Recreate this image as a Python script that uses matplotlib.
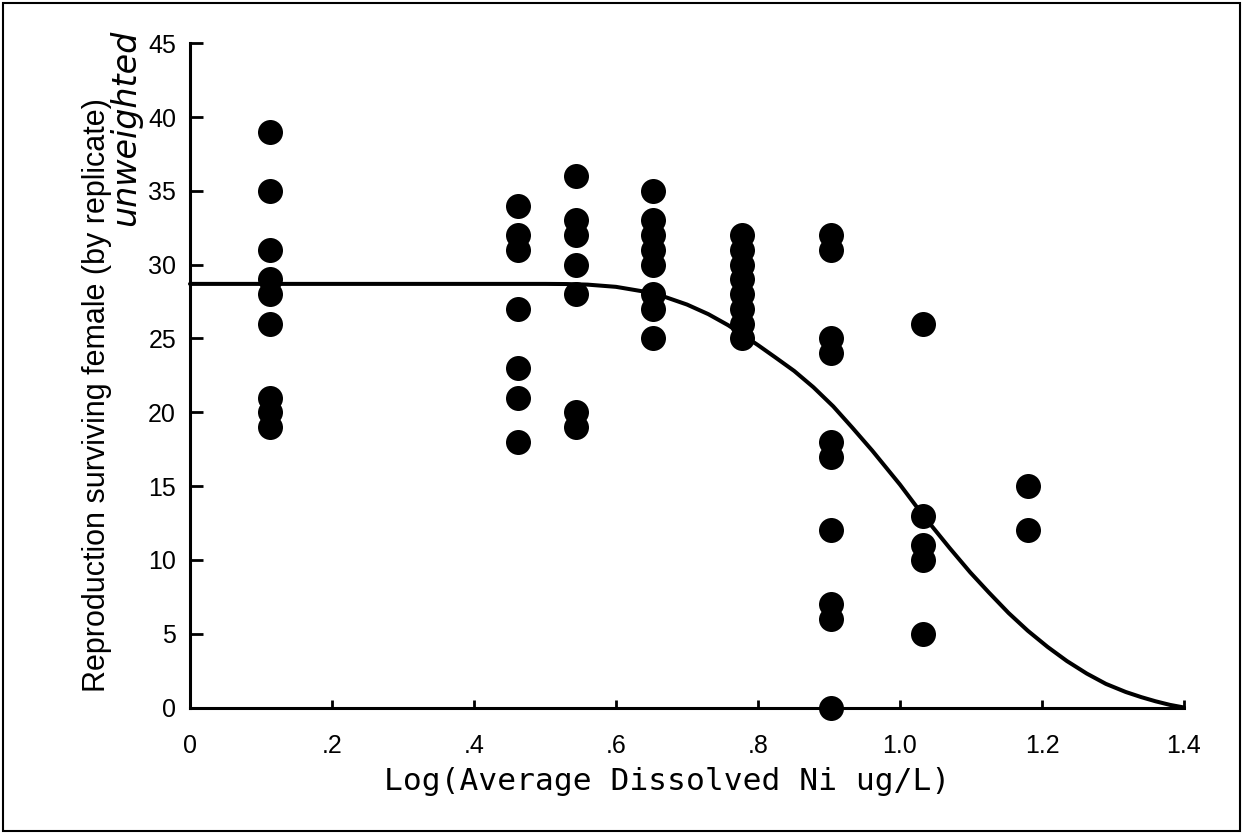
import matplotlib
matplotlib.use("Agg")
import matplotlib.pyplot as plt
from matplotlib.patches import Rectangle

# ---- data ----
log_ni = [0.113, 0.4615, 0.544, 0.652, 0.777, 0.903, 1.033, 1.180]
reproduction = [
    [39, 35, 31, 29, 28, 26, 21, 20, 19],
    [34, 32, 31, 27, 23, 21, 18],
    [36, 33, 32, 30, 28, 20, 19],
    [35, 33, 32, 31, 30, 28, 27, 25],
    [32, 31, 30, 29, 28, 27, 26, 25],
    [32, 31, 25, 24, 18, 17, 12, 7, 6, 0],
    [26, 13, 11, 10, 5],
    [15, 12],
]
fit_x = [0.0, 0.11, 0.30, 0.50, 0.53, 0.56, 0.60, 0.637, 0.67, 0.70, 0.73,
         0.758, 0.78, 0.80, 0.825, 0.851, 0.878, 0.906, 0.933, 0.961, 1.00,
         1.032, 1.07, 1.099, 1.125, 1.153, 1.18, 1.208, 1.235, 1.263, 1.29,
         1.318, 1.34, 1.36, 1.38, 1.40]
fit_y = [28.7, 28.7, 28.7, 28.7, 28.69, 28.65, 28.5, 28.2, 27.8, 27.3, 26.65,
         25.9, 25.2, 24.55, 23.7, 22.8, 21.7, 20.4, 18.95, 17.4, 15.1,
         13.05, 10.8, 9.15, 7.8, 6.4, 5.2, 4.1, 3.15, 2.3, 1.6,
         1.05, 0.7, 0.42, 0.18, 0.0]
x_ticks = [0, 0.2, 0.4, 0.6, 0.8, 1.0, 1.2, 1.4]
x_tick_labels = ["0", ".2", ".4", ".6", ".8", "1.0", "1.2", "1.4"]
y_ticks = [0, 5, 10, 15, 20, 25, 30, 35, 40, 45]
x_label = "Log(Average Dissolved Ni ug/L)"
y_label = "Reproduction surviving female (by replicate)"
note = "unweighted"

plt.rcParams["font.family"] = ["Liberation Sans", "DejaVu Sans"]

W, H = 1246, 834
fig = plt.figure(figsize=(W / 100, H / 100), dpi=100)
ax = fig.add_axes([190 / W, 1 - 707.5 / H, (1184 - 190) / W, (707.5 - 43.3) / H])

xs, ys = [], []
for xv, vals in zip(log_ni, reproduction):
    for v in vals:
        xs.append(xv)
        ys.append(v)
ax.plot(xs, ys, "o", color="black", markersize=18, markeredgewidth=0, clip_on=False, zorder=3)
ax.plot(fit_x, fit_y, "-", color="black", linewidth=2.9, solid_capstyle="round",
        solid_joinstyle="round", clip_on=False, zorder=2)

ax.set_xlim(0, 1.4)
ax.set_ylim(0, 45)
ax.set_xticks(x_ticks)
ax.set_xticklabels(x_tick_labels)
ax.set_yticks(y_ticks)
for s in ["top", "right"]:
    ax.spines[s].set_visible(False)
for s in ["left", "bottom"]:
    ax.spines[s].set_linewidth(2.2)
ax.tick_params(axis="x", direction="in", length=6, width=2, labelsize=18, pad=19)
ax.tick_params(axis="y", direction="in", length=9, width=2, labelsize=18, pad=10)

fig.text(667 / W, 1 - 781 / H, x_label, fontsize=22.5, ha="center", va="center",
         family=["DejaVu Sans Mono", "DejaVu Sans"])
fig.text(97 / W, 1 - 395 / H, y_label, fontsize=22, rotation=90, ha="center", va="center")

fig.text(126 / W, 1 - 128 / H, note, rotation=90, fontsize=24, fontstyle="italic",
         ha="center", va="center", family=["DejaVu Sans"])

fig.patches.append(Rectangle((3 / W, 3 / H), (1240 - 3) / W, (831 - 3) / H,
                             transform=fig.transFigure, fill=False,
                             edgecolor="black", linewidth=1.5))

fig.savefig("out.png", dpi=100)
